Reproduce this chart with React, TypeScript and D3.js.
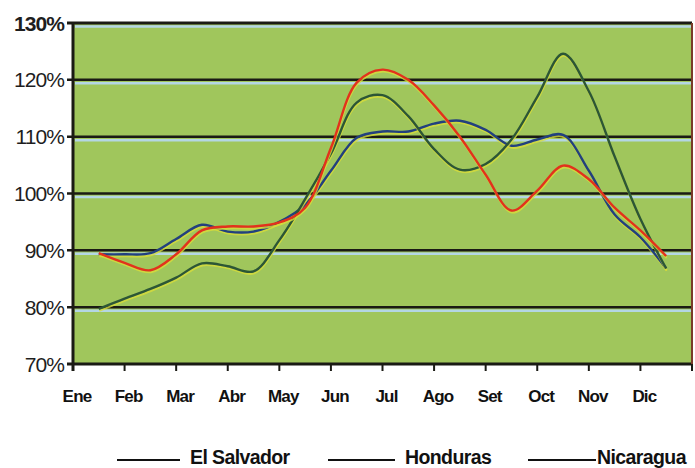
import React from "react";
import * as d3 from "d3";

const monthLabels = ["Ene", "Feb", "Mar", "Abr", "May", "Jun", "Jul", "Ago", "Set", "Oct", "Nov", "Dic"];
const yTicks = [70, 80, 90, 100, 110, 120, 130];
// sample positions in months (0 = start of Ene)
const samplePos = [0.5, 1, 1.5, 2, 2.5, 3, 3.5, 4, 4.5, 5, 5.5, 6, 6.5, 7, 7.5, 8, 8.5, 9, 9.5, 10, 10.5, 11, 11.5];
const elSalvador = [89.3, 89.3, 89.5, 92, 94.5, 93.3, 93.3, 95, 98, 104, 109.8, 110.9, 110.9, 112.3, 112.8, 111.2, 108.4, 109.5, 110.3, 104, 96.3, 92.3, 86.8];
const honduras = [79.7, 81.5, 83.2, 85.2, 87.7, 87.2, 86.3, 91.8, 99, 107, 116, 117.3, 113.6, 107.8, 104.2, 105.2, 109.5, 117, 124.6, 118, 106.5, 95.5, 86.8];
const nicaragua = [89.5, 87.8, 86.5, 89.3, 93.5, 94.2, 94.2, 94.9, 97.5, 108, 119.5, 121.8, 120, 115.5, 110, 103.3, 97, 100.5, 104.9, 102.5, 97.5, 93.5, 89];
const legendNames = ["El Salvador", "Honduras", "Nicaragua"];

const W = 695, H = 468;
const L = 73, R = 692, T = 23, B = 364;

export default function App() {
  const x = d3.scaleLinear().domain([0, 12]).range([L, R]);
  const y = d3.scaleLinear().domain([70, 130]).range([B, T]);
  const line = d3
    .line<number>()
    .x((_, i) => x(samplePos[i]))
    .y((d) => y(d))
    .curve(d3.curveCatmullRom.alpha(0.5));

  const series = [
    { vals: elSalvador, color: "#22407e" },
    { vals: honduras, color: "#2c5636" },
    { vals: nicaragua, color: "#e2321c" },
  ];
  const font = "'Liberation Sans', Arial, sans-serif";
  const legendPos = [
    { x1: 117, x2: 180, tx: 190 },
    { x1: 328, x2: 395, tx: 405 },
    { x1: 528, x2: 596, tx: 597 },
  ];

  return (
    <svg width={W} height={H} style={{ position: "absolute", left: 0, top: 0, background: "#fff" }}>
      <rect x={L} y={T} width={R - L} height={B - T} fill="#a0c65c" />
      {yTicks.map((t) => (
        <g key={t}>
          {t !== 70 && (
            <line x1={L + 2} x2={R} y1={y(t) + 3.5} y2={y(t) + 3.5} stroke="#b4d6e4" strokeWidth={2.5} />
          )}
          <line x1={L - 6} x2={R} y1={y(t)} y2={y(t)} stroke="#1a1a14" strokeWidth={t === 70 || t === 130 ? 3 : 2.5} />
          <text
            x={64}
            y={y(t)}
            dy="0.36em"
            textAnchor="end"
            fontFamily={font}
            fontSize={21}
            fontWeight={t === 130 ? "bold" : "normal"}
            fill="#1e1e1e"
            letterSpacing={-0.9}
          >
            {t}%
          </text>
        </g>
      ))}
      {series.map((s, k) => (
        <g key={k}>
          <path d={line(s.vals) || ""} fill="none" stroke="#d8dc3a" strokeWidth={2} transform="translate(0.5,2)" opacity={0.8} />
          <path d={line(s.vals) || ""} fill="none" stroke={s.color} strokeWidth={2.4} />
        </g>
      ))}
      <line x1={L} x2={L} y1={T - 1} y2={B + 7} stroke="#1a1a14" strokeWidth={3} />
      <line x1={R} x2={R} y1={T} y2={B} stroke="#7a3b2a" strokeWidth={2} />
      {d3.range(13).map((i) => (
        <line key={i} x1={x(i)} x2={x(i)} y1={B} y2={B + 7} stroke="#1a1a14" strokeWidth={2} />
      ))}
      {monthLabels.map((m, i) => (
        <text
          key={m}
          x={x(i) + 4}
          y={402}
          textAnchor="middle"
          fontFamily={font}
          fontSize={17}
          fontWeight="bold"
          fill="#111"
          letterSpacing={-0.8}
        >
          {m}
        </text>
      ))}
      {legendNames.map((n, i) => (
        <g key={n}>
          <line x1={legendPos[i].x1} x2={legendPos[i].x2} y1={460} y2={460} stroke="#111" strokeWidth={2.2} />
          <text x={legendPos[i].tx} y={464} fontFamily={font} fontSize={19.5} fontWeight="bold" fill="#111" letterSpacing={-0.6}>
            {n}
          </text>
        </g>
      ))}
    </svg>
  );
}
